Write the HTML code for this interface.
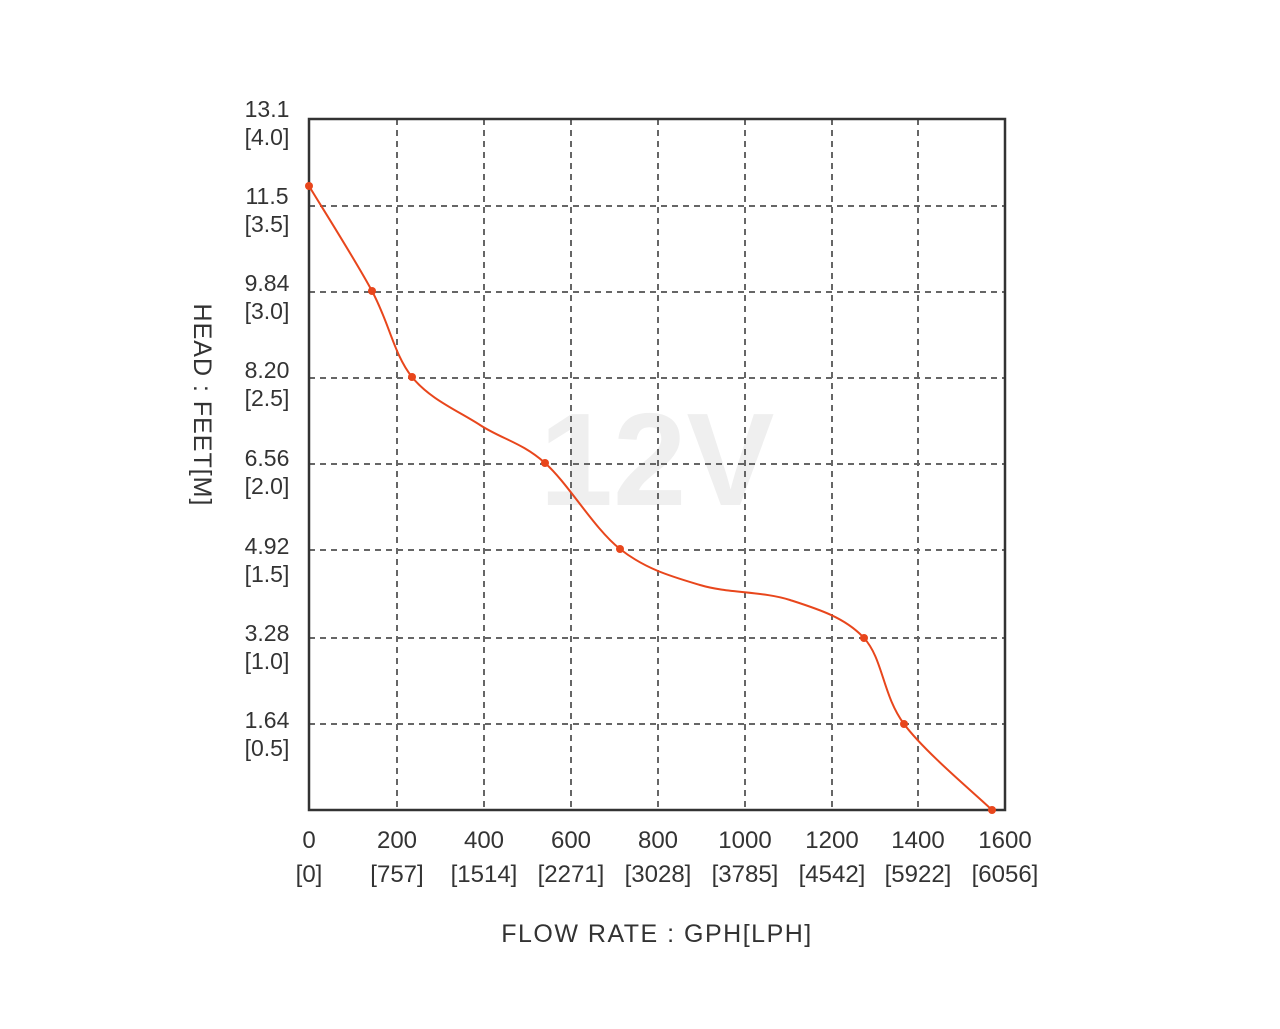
<!DOCTYPE html>
<html><head><meta charset="utf-8"><style>
html,body{margin:0;padding:0;background:#fff;}
svg text{font-family:"Liberation Sans",Arial,sans-serif;fill:#333;}
</style></head><body>
<svg id="s" width="1280" height="1024" viewBox="0 0 1280 1024" xmlns="http://www.w3.org/2000/svg">
<text x="657" y="505" font-size="132" font-weight="bold" text-anchor="middle" style="fill:#efefef">12V</text>
<g stroke="#666" stroke-width="2" stroke-dasharray="6,5" fill="none">
<line x1="397" y1="119" x2="397" y2="810"/><line x1="484" y1="119" x2="484" y2="810"/>
<line x1="571" y1="119" x2="571" y2="810"/><line x1="658" y1="119" x2="658" y2="810"/>
<line x1="745" y1="119" x2="745" y2="810"/><line x1="832" y1="119" x2="832" y2="810"/>
<line x1="918" y1="119" x2="918" y2="810"/>
<line x1="309" y1="206" x2="1005" y2="206"/><line x1="309" y1="292" x2="1005" y2="292"/>
<line x1="309" y1="378" x2="1005" y2="378"/><line x1="309" y1="464" x2="1005" y2="464"/>
<line x1="309" y1="550" x2="1005" y2="550"/><line x1="309" y1="638" x2="1005" y2="638"/>
<line x1="309" y1="724" x2="1005" y2="724"/>
</g>
<rect x="309" y="119" width="696" height="691" fill="none" stroke="#333" stroke-width="2.5"/>
<path id="c" fill="none" stroke="#e8461c" stroke-width="2"/>
<g id="m" fill="#e8461c"></g>
<g font-size="23" text-anchor="middle">
<text x="267" y="117">13.1</text><text x="267" y="145">[4.0]</text>
<text x="267" y="204">11.5</text><text x="267" y="232">[3.5]</text>
<text x="267" y="291">9.84</text><text x="267" y="319">[3.0]</text>
<text x="267" y="378">8.20</text><text x="267" y="406">[2.5]</text>
<text x="267" y="466">6.56</text><text x="267" y="494">[2.0]</text>
<text x="267" y="554">4.92</text><text x="267" y="582">[1.5]</text>
<text x="267" y="641">3.28</text><text x="267" y="669">[1.0]</text>
<text x="267" y="728">1.64</text><text x="267" y="756">[0.5]</text>
</g>
<g font-size="24" text-anchor="middle">
<text x="309" y="848">0</text><text x="309" y="882">[0]</text>
<text x="397" y="848">200</text><text x="397" y="882">[757]</text>
<text x="484" y="848">400</text><text x="484" y="882">[1514]</text>
<text x="571" y="848">600</text><text x="571" y="882">[2271]</text>
<text x="658" y="848">800</text><text x="658" y="882">[3028]</text>
<text x="745" y="848">1000</text><text x="745" y="882">[3785]</text>
<text x="832" y="848">1200</text><text x="832" y="882">[4542]</text>
<text x="918" y="848">1400</text><text x="918" y="882">[5922]</text>
<text x="1005" y="848">1600</text><text x="1005" y="882">[6056]</text>
<text x="657" y="942" font-size="25" letter-spacing="1.5">FLOW RATE : GPH[LPH]</text>
<text transform="translate(194,405) rotate(90)" font-size="25" letter-spacing="1">HEAD : FEET[M]</text>
</g>
</svg>
<script>
var P=[[309,186],[372,291],[412,377],[480,425],[545,463],[620,549],[700,585],[790,600],[864,638],[904,724],[992,810]];
var d="M"+P[0][0]+","+P[0][1];
for(var i=0;i<P.length-1;i++){var p0=P[i-1]||P[i],p1=P[i],p2=P[i+1],p3=P[i+2]||p2;
d+=" C"+(p1[0]+(p2[0]-p0[0])/6)+","+(p1[1]+(p2[1]-p0[1])/6)+" "+(p2[0]-(p3[0]-p1[0])/6)+","+(p2[1]-(p3[1]-p1[1])/6)+" "+p2[0]+","+p2[1];}
document.getElementById("c").setAttribute("d",d);
var M=[[309,186],[372,291],[412,377],[545,463],[620,549],[864,638],[904,724],[992,810]],g=document.getElementById("m");
M.forEach(function(p){var c=document.createElementNS("http://www.w3.org/2000/svg","circle");c.setAttribute("cx",p[0]);c.setAttribute("cy",p[1]);c.setAttribute("r",4);g.appendChild(c);});
</script>
</body></html>
